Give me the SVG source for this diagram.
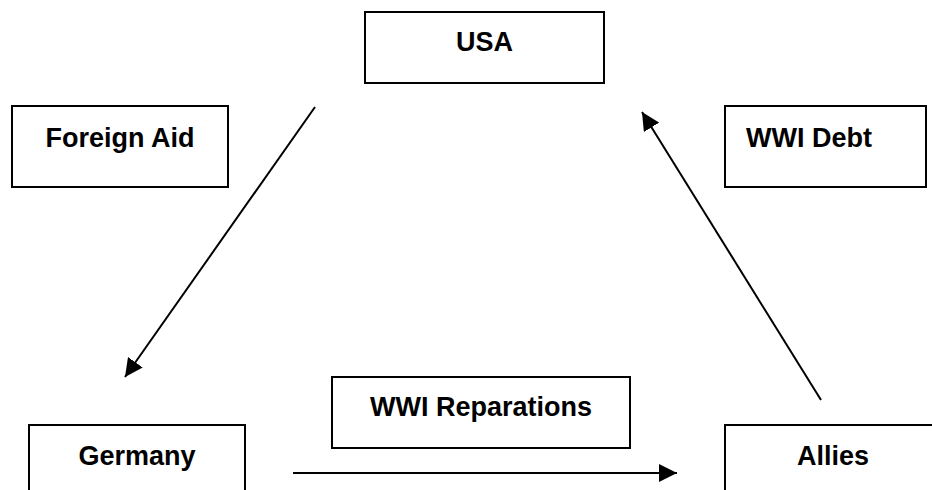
<svg xmlns="http://www.w3.org/2000/svg" width="932" height="490" viewBox="0 0 932 490">
<style>
.box{fill:#fff;stroke:#000;stroke-width:2}
.lbl{font-family:"Liberation Sans",Arial,sans-serif;font-weight:bold;font-size:27px;fill:#000;text-anchor:middle}
.con{stroke:#000;stroke-width:2;fill:none;marker-end:url(#ah)}
</style>
<defs>
<marker id="ah" markerUnits="userSpaceOnUse" markerWidth="18" markerHeight="18" viewBox="0 0 16 16" refX="16" refY="8" orient="auto">
<path d="M0,0 L16,8 L0,16 Z" fill="#000"/>
</marker>
</defs>
<rect width="932" height="490" fill="#fff"/>
<g id="usa"><rect class="box" x="365" y="12" width="239" height="71"/><text class="lbl" x="484.5" y="51">USA</text></g>
<g id="foreign-aid"><rect class="box" x="12" y="106" width="216" height="81"/><text class="lbl" x="120" y="147">Foreign Aid</text></g>
<g id="wwi-debt"><rect class="box" x="725" y="106" width="201" height="81"/><text class="lbl" x="809" y="147">WWI Debt</text></g>
<g id="wwi-reparations"><rect class="box" x="332" y="377" width="298" height="71"/><text class="lbl" x="481" y="416">WWI Reparations</text></g>
<g id="germany"><rect class="box" x="29" y="425" width="216" height="80"/><text class="lbl" x="137" y="465">Germany</text></g>
<g id="allies"><rect class="box" x="725" y="425" width="216" height="80"/><text class="lbl" x="833" y="465">Allies</text></g>
<g id="connectors">
<line class="con" x1="315" y1="107" x2="125" y2="377"/>
<line class="con" x1="821" y1="400" x2="642" y2="112"/>
<line class="con" x1="293" y1="473" x2="677" y2="473"/>
</g>
</svg>
